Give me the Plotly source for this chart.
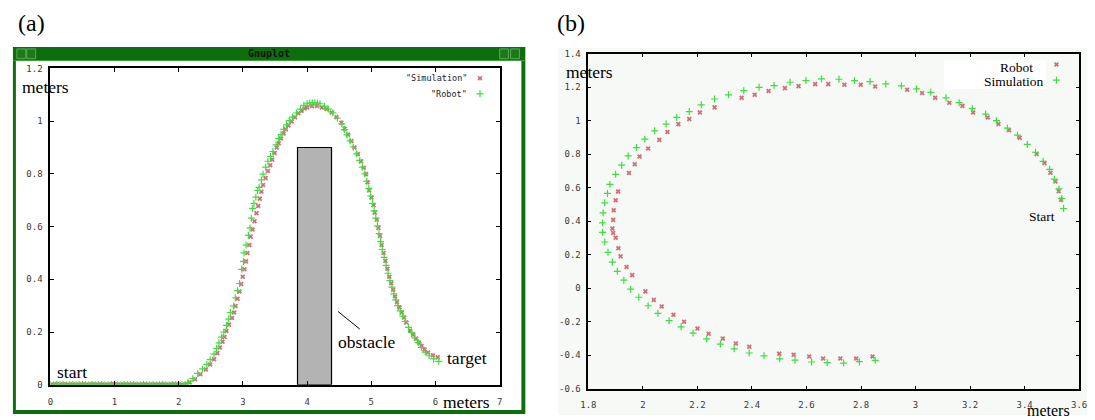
import plotly.graph_objects as go

W, H = 1095, 420

# ---------------- Panel (a) data ----------------
flat_x = [0.00, 0.05, 0.10, 0.15, 0.20, 0.25, 0.30, 0.35, 0.40, 0.45, 0.50, 0.55, 0.60, 0.65,
          0.70, 0.75, 0.80, 0.85, 0.90, 0.95, 1.00, 1.05, 1.10, 1.15, 1.20, 1.25, 1.30, 1.35,
          1.40, 1.45, 1.50, 1.55, 1.60, 1.65, 1.70, 1.75, 1.80, 1.85, 1.90, 1.95, 2.00, 2.05, 2.10]
flat_y = [0.000, 0.000, 0.002, 0.000, 0.001, 0.000, 0.000, 0.001, 0.000, 0.000,
          0.001, 0.000, 0.000, 0.002, 0.000, 0.000, 0.001, 0.000, 0.000, 0.001,
          0.002, 0.000, 0.000, 0.001, 0.000, 0.000, 0.001, 0.000, 0.000, 0.001,
          0.000, 0.000, 0.001, 0.000, 0.000, 0.001, 0.000, 0.000, 0.001, 0.000,
          0.001, 0.000, 0.000]

sim_a_x = flat_x + [2.170, 2.255, 2.336, 2.423, 2.489, 2.550, 2.601, 2.641, 2.682, 2.713, 2.743,
                    2.783, 2.829, 2.862, 2.885, 2.916, 2.947, 2.972, 2.997, 3.023, 3.049, 3.069,
                    3.099, 3.120, 3.150, 3.180, 3.211, 3.237, 3.262, 3.288, 3.313, 3.354, 3.389,
                    3.425, 3.455, 3.492, 3.527, 3.557, 3.593, 3.634, 3.669, 3.710, 3.760, 3.812,
                    3.863, 3.913, 3.960, 4.000, 4.076, 4.153, 4.229, 4.305, 4.382, 4.458, 4.534,
                    4.585, 4.637, 4.687, 4.737, 4.789, 4.840, 4.881, 4.916, 4.940, 4.966, 5.003,
                    5.033, 5.053, 5.084, 5.110, 5.134, 5.160, 5.190, 5.220, 5.250, 5.280, 5.310,
                    5.340, 5.370, 5.400, 5.440, 5.476, 5.510, 5.542, 5.603, 5.650, 5.695, 5.740,
                    5.782, 5.830, 5.883, 5.960, 6.035]
sim_a_y = flat_y + [0.009, 0.021, 0.040, 0.058, 0.077, 0.097, 0.120, 0.141, 0.163, 0.181, 0.204,
                    0.228, 0.253, 0.274, 0.299, 0.326, 0.354, 0.382, 0.410, 0.438, 0.468, 0.500,
                    0.530, 0.562, 0.589, 0.620, 0.651, 0.678, 0.706, 0.732, 0.758, 0.784, 0.811,
                    0.833, 0.854, 0.879, 0.900, 0.916, 0.934, 0.953, 0.969, 0.984, 0.999, 1.015,
                    1.030, 1.040, 1.048, 1.052, 1.058, 1.058, 1.052, 1.046, 1.033, 1.015, 0.994,
                    0.971, 0.949, 0.925, 0.900, 0.875, 0.848, 0.823, 0.799, 0.768, 0.737, 0.710,
                    0.681, 0.653, 0.626, 0.595, 0.564, 0.530, 0.500, 0.470, 0.440, 0.410, 0.385,
                    0.360, 0.335, 0.313, 0.293, 0.274, 0.255, 0.237, 0.206, 0.190, 0.175, 0.160,
                    0.147, 0.134, 0.122, 0.112, 0.104]

rob_a_x = flat_x + [2.142, 2.219, 2.295, 2.371, 2.438, 2.489, 2.550, 2.590, 2.626, 2.667, 2.702,
                    2.743, 2.779, 2.804, 2.855, 2.880, 2.916, 2.947, 2.982, 3.008, 3.018, 3.049,
                    3.084, 3.110, 3.130, 3.150, 3.171, 3.201, 3.227, 3.252, 3.288, 3.313, 3.354,
                    3.389, 3.430, 3.466, 3.516, 3.557, 3.593, 3.634, 3.679, 3.721, 3.771, 3.832,
                    3.898, 3.950, 4.000, 4.040, 4.080, 4.120, 4.160, 4.200, 4.270, 4.330, 4.400,
                    4.470, 4.540, 4.580, 4.620, 4.670, 4.720, 4.770, 4.820, 4.860, 4.900, 4.930,
                    4.960, 4.990, 5.020, 5.045, 5.070, 5.095, 5.120, 5.145, 5.170, 5.200, 5.230,
                    5.260, 5.290, 5.320, 5.350, 5.380, 5.410, 5.450, 5.490, 5.530, 5.580, 5.630,
                    5.680, 5.730, 5.780, 5.840, 5.900, 5.970, 6.050]
rob_a_y = flat_y + [0.009, 0.023, 0.043, 0.060, 0.077, 0.095, 0.117, 0.138, 0.159, 0.181, 0.200,
                    0.225, 0.249, 0.274, 0.299, 0.330, 0.357, 0.384, 0.438, 0.468, 0.500, 0.530,
                    0.567, 0.595, 0.632, 0.669, 0.688, 0.712, 0.737, 0.749, 0.777, 0.799, 0.826,
                    0.848, 0.866, 0.885, 0.910, 0.934, 0.949, 0.969, 0.986, 1.002, 1.015, 1.031,
                    1.046, 1.060, 1.066, 1.069, 1.070, 1.070, 1.069, 1.066, 1.057, 1.046, 1.032,
                    1.012, 0.990, 0.968, 0.948, 0.925, 0.902, 0.876, 0.851, 0.826, 0.800, 0.772,
                    0.745, 0.716, 0.688, 0.660, 0.632, 0.603, 0.573, 0.543, 0.513, 0.483, 0.453,
                    0.423, 0.395, 0.370, 0.345, 0.322, 0.300, 0.280, 0.260, 0.240, 0.218, 0.198,
                    0.178, 0.160, 0.142, 0.124, 0.110, 0.098, 0.089]

obstacle_x = [3.85, 4.38]
obstacle_top = 0.9

a_xticks = [0, 1, 2, 3, 4, 5, 6, 7]
a_xlabels = ["0", "1", "2", "3", "4", "5", "6", "7"]
a_yticks = [0, 0.2, 0.4, 0.6, 0.8, 1.0, 1.2]
a_ylabels = ["0", "0.2", "0.4", "0.6", "0.8", "1", "1.2"]

# ---------------- Panel (b) data ----------------
robot_b_x = [3.534, 3.525, 3.513, 3.495, 3.473, 3.444, 3.382, 3.343, 3.304, 3.265, 3.211, 3.172,
             3.124, 3.072, 3.024, 2.969, 2.852, 2.799, 2.739, 2.680, 2.632, 2.571, 2.521, 2.461,
             2.410, 2.362, 2.263, 2.209, 2.170, 2.130, 2.090, 2.060, 2.019, 1.988, 1.970, 1.949,
             1.909, 1.900, 1.893, 1.891, 1.888, 1.891, 1.900, 1.910, 1.918, 1.940, 1.961, 2.009,
             2.040, 2.069, 2.112, 2.151, 2.200, 2.241, 2.293, 2.341, 2.390, 2.500, 2.553, 2.610,
             2.661, 2.724, 2.782, 2.842]
robot_b_y = [0.529, 0.579, 0.637, 0.690, 0.748, 0.801, 0.898, 0.943, 0.981, 1.020, 1.050, 1.089,
             1.108, 1.137, 1.166, 1.185, 1.205, 1.215, 1.215, 1.219, 1.219, 1.207, 1.195, 1.178,
             1.155, 1.137, 1.080, 1.050, 1.010, 0.980, 0.933, 0.886, 0.834, 0.787, 0.740, 0.688,
             0.577, 0.525, 0.466, 0.408, 0.356, 0.330, 0.301, 0.239, 0.191, 0.127, 0.078, -0.019,
             -0.070, -0.109, -0.159, -0.200, -0.241, -0.272, -0.301, -0.330, -0.350, -0.391,
             -0.398, -0.408, -0.420, -0.420, -0.420, -0.408]

sim_b_x = [3.543, 3.536, 3.526, 3.509, 3.492, 3.468, 3.440, 3.410, 3.374, 3.337, 3.297, 3.257,
           3.208, 3.160, 3.112, 3.056, 3.004, 2.948, 2.891, 2.833, 2.776, 2.719, 2.655, 2.598,
           2.540, 2.481, 2.426, 2.370, 2.314, 2.263, 2.214, 2.170, 2.124, 2.085, 2.043, 2.007,
           1.976, 1.946, 1.922, 1.900, 1.879, 1.870, 1.860, 1.854, 1.852, 1.852, 1.860, 1.872,
           1.888, 1.906, 1.930, 1.955, 1.985, 2.019, 2.055, 2.096, 2.140, 2.184, 2.234, 2.284,
           2.335, 2.390, 2.444, 2.502, 2.558, 2.619, 2.676, 2.736, 2.794, 2.852]
sim_b_y = [0.476, 0.535, 0.593, 0.651, 0.710, 0.758, 0.812, 0.859, 0.914, 0.956, 1.001, 1.040,
           1.073, 1.108, 1.137, 1.170, 1.190, 1.209, 1.220, 1.234, 1.240, 1.248, 1.250, 1.240,
           1.230, 1.210, 1.200, 1.180, 1.155, 1.130, 1.095, 1.055, 1.020, 0.980, 0.940, 0.890,
           0.840, 0.790, 0.735, 0.680, 0.620, 0.566, 0.510, 0.450, 0.390, 0.334, 0.276, 0.214,
           0.156, 0.101, 0.048, -0.006, -0.054, -0.105, -0.150, -0.194, -0.231, -0.268, -0.303,
           -0.334, -0.362, -0.387, -0.404, -0.422, -0.430, -0.441, -0.445, -0.447, -0.439, -0.431]

b_xticks = [1.8, 2.0, 2.2, 2.4, 2.6, 2.8, 3.0, 3.2, 3.4, 3.6]
b_xlabels = ["1.8", "2", "2.2", "2.4", "2.6", "2.8", "3", "3.2", "3.4", "3.6"]
b_yticks = [-0.6, -0.4, -0.2, 0, 0.2, 0.4, 0.6, 0.8, 1.0, 1.2, 1.4]
b_ylabels = ["-0.6", "-0.4", "-0.2", "0", "0.2", "0.4", "0.6", "0.8", "1", "1.2", "1.4"]

# ---------------- styles ----------------
RED = "#d0707a"
GREEN = "#3ede3e"
TICKFONT = dict(family="DejaVu Sans Mono", size=9, color="#3a3a3a")
SERIF = "Liberation Serif"


def px(x):
    return x / W


def py(y):
    return 1 - y / H


red_marker = dict(symbol="x", size=4.5, color=RED, line=dict(width=0))
green_marker = dict(symbol="cross-thin", size=5, line=dict(width=1.2, color=GREEN), color=GREEN)

fig = go.Figure()
fig.add_trace(go.Scatter(x=sim_a_x, y=sim_a_y, mode="markers", marker=red_marker,
                         xaxis="x", yaxis="y", showlegend=False))
fig.add_trace(go.Scatter(x=rob_a_x, y=rob_a_y, mode="markers", marker=green_marker,
                         xaxis="x", yaxis="y", showlegend=False))
fig.add_trace(go.Scatter(x=robot_b_x, y=robot_b_y, mode="markers", marker=red_marker,
                         xaxis="x2", yaxis="y2", showlegend=False))
fig.add_trace(go.Scatter(x=sim_b_x, y=sim_b_y, mode="markers", marker=green_marker,
                         xaxis="x2", yaxis="y2", showlegend=False))
# legend samples (pixel overlay axis)
fig.add_trace(go.Scatter(x=[479, 1064], y=[75, 61], mode="markers", marker=red_marker,
                         xaxis="x3", yaxis="y3", showlegend=False))
fig.add_trace(go.Scatter(x=[479, 1064], y=[91, 77], mode="markers", marker=green_marker,
                         xaxis="x3", yaxis="y3", showlegend=False))

axis_common = dict(showgrid=False, zeroline=False, showline=True, linecolor="black",
                   ticks="inside", tickcolor="black", tickfont=TICKFONT, mirror="ticks")

shapes = []
# gnuplot window (panel a)
shapes.append(dict(type="rect", xref="paper", yref="paper", x0=px(5), x1=px(525), y0=py(419), y1=py(43),
                   fillcolor="#0d6e0d", line=dict(width=0), layer="below"))
shapes.append(dict(type="rect", xref="paper", yref="paper", x0=px(8), x1=px(521), y0=py(415), y1=py(57),
                   fillcolor="white", line=dict(width=0), layer="below"))
shapes.append(dict(type="line", xref="paper", yref="paper", x0=px(5), x1=px(525), y0=py(57), y1=py(57),
                   line=dict(color="#4a9a4a", width=1), layer="below"))
for bx in (9, 19, 499, 510):
    shapes.append(dict(type="rect", xref="paper", yref="paper", x0=px(bx), x1=px(bx + 9),
                       y0=py(55), y1=py(45), fillcolor="#1a7a1a",
                       line=dict(color="#5aaa5a", width=1), layer="below"))
# panel (b) background
shapes.append(dict(type="rect", xref="paper", yref="paper", x0=px(558), x1=px(1095), y0=0, y1=py(44),
                   fillcolor="#f6f9f6", line=dict(width=0), layer="below"))
# legend box (b)
shapes.append(dict(type="rect", xref="paper", yref="paper", x0=px(950), x1=px(1053), y0=py(86), y1=py(56),
                   fillcolor="white", line=dict(width=0), layer="below"))
# obstacle
shapes.append(dict(type="rect", xref="x", yref="y", x0=obstacle_x[0], x1=obstacle_x[1], y0=0, y1=obstacle_top,
                   fillcolor="#b3b3b3", line=dict(color="black", width=1.2), layer="below"))
# obstacle pointer
shapes.append(dict(type="line", xref="paper", yref="paper", x0=px(335), y0=py(314), x1=px(357), y1=py(332),
                   line=dict(color="black", width=1)))

annotations = []


def ann(text, x, y, size, family=SERIF, xanchor="center", color="black", yanchor="middle"):
    annotations.append(dict(text=text, xref="paper", yref="paper", x=px(x), y=py(y), showarrow=False,
                            xanchor=xanchor, yanchor=yanchor,
                            font=dict(family=family, size=size, color=color)))


ann("(a)", 8, 18, 24, xanchor="left")
ann("(b)", 555, 18, 24, xanchor="left")
ann("<b>Gnuplot</b>", 265, 50, 10, family="DejaVu Sans Mono", color="#111111")
ann("meters", 38, 84, 17.5)
ann("start", 65, 376, 17.5)
ann("target", 466, 362, 17.5)
ann("obstacle", 364, 345, 17.5)
ann("meters", 465, 407, 17.5)
ann('"Simulation"', 468, 75, 8.5, family="DejaVu Sans Mono", xanchor="right", color="#222222")
ann('"Robot"', 468, 91, 8.5, family="DejaVu Sans Mono", xanchor="right", color="#222222")
ann("meters", 590, 69, 17.5)
ann("Robot", 1042, 64, 13.5, xanchor="right")
ann("Simulation", 1053, 78, 13.5, xanchor="right")
ann("Start", 1065, 217, 13.5, xanchor="right")
ann("meters", 1056, 415, 16)

fig.update_layout(
    width=W, height=H, margin=dict(l=0, r=0, t=0, b=0),
    paper_bgcolor="white", plot_bgcolor="rgba(0,0,0,0)", hovermode=False,
    xaxis=dict(domain=[px(43), px(499)], range=[0, 7], anchor="y", tickvals=a_xticks, ticktext=a_xlabels,
               ticklen=4, linewidth=2, ticklabelstandoff=7, **axis_common),
    yaxis=dict(domain=[py(389), py(65)], range=[0, 1.2], anchor="x", tickvals=a_yticks, ticktext=a_ylabels,
               ticklen=4, linewidth=2, ticklabelstandoff=4, **axis_common),
    xaxis2=dict(domain=[px(589), px(1087)], range=[1.8, 3.6], anchor="y2", tickvals=b_xticks, ticktext=b_xlabels,
                ticklen=3, linewidth=1.6, ticklabelstandoff=7, **axis_common),
    yaxis2=dict(domain=[py(393), py(50)], range=[-0.6, 1.4], anchor="x2", tickvals=b_yticks, ticktext=b_ylabels,
                ticklen=3, linewidth=1.6, ticklabelstandoff=4, **axis_common),
    xaxis3=dict(domain=[0, 1], range=[0, W], anchor="y3", visible=False),
    yaxis3=dict(domain=[0, 1], range=[H, 0], anchor="x3", visible=False),
    shapes=shapes, annotations=annotations,
)

fig.write_html("out.html")
